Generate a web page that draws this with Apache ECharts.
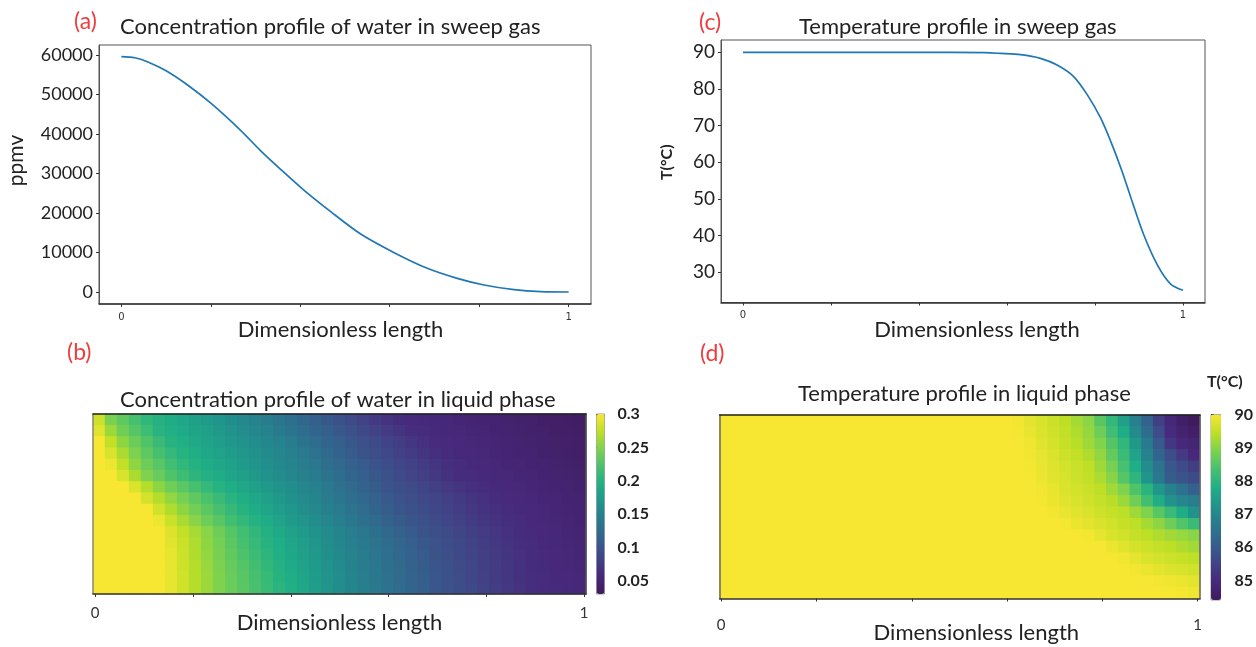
<!DOCTYPE html>
<html><head><meta charset="utf-8">
<style>html,body{margin:0;padding:0;background:#fff}#c{width:1256px;height:647px}</style>
<script src="https://cdn.jsdelivr.net/npm/echarts@6/dist/echarts.min.js"></script>
</head><body><div id="c"></div>
<script>
const lengthTicks=[0,0.2,0.4,0.6,0.8,1];
const lengthLabels=[0,1];
const ppmvTicks=[0,10000,20000,30000,40000,50000,60000];
const tempTicks=[30,40,50,60,70,80,90];
const liquidConcTicks=[0.05,0.1,0.15,0.2,0.25,0.3];
const liquidTempTicks=[85,86,87,88,89,90];

const sweepWaterX=[0,0.03,0.058,0.1,0.148,0.2,0.266,0.311,0.356,0.408,0.468,0.535,0.61,0.684,0.751,0.811,0.878,0.938,1];
const sweepWaterY=[59600,59300,58300,56000,52400,47800,41000,35800,31060,25800,20340,14680,9960,6000,3460,1770,580,80,0];
const sweepTempX=[0,0.2,0.4,0.55,0.585,0.631,0.676,0.714,0.752,0.783,0.813,0.836,0.86,0.881,0.911,0.942,0.972,1];
const sweepTempY=[90,90,90,89.9,89.7,89.35,88.35,86.5,83.3,78.3,72,65.6,58,50.5,40.1,31.9,26.7,25];

const liquidConc=[
[.28,.246,.233,.22,.206,.197,.191,.185,.179,.174,.168,.162,.156,.15,.143,.135,.128,.12,.112,.104,.097,.09,.082,.074,.067,.06,.058,.057,.055,.054,.052,.05,.049,.047,.046,.044,.043,.041,.04,.038,.036],
[.29,.26,.241,.228,.214,.2,.194,.189,.183,.178,.172,.166,.16,.155,.149,.14,.134,.126,.118,.111,.103,.096,.089,.082,.075,.068,.061,.059,.057,.055,.054,.052,.051,.049,.048,.046,.044,.043,.041,.04,.038],
[.3,.276,.254,.239,.225,.212,.199,.194,.188,.182,.177,.171,.166,.16,.155,.149,.141,.134,.126,.118,.111,.103,.096,.09,.083,.077,.07,.064,.059,.058,.056,.055,.053,.051,.05,.048,.046,.045,.043,.042,.04],
[.3,.285,.266,.247,.232,.22,.208,.198,.193,.187,.182,.176,.17,.165,.159,.154,.148,.14,.132,.124,.116,.108,.1,.094,.088,.081,.075,.069,.063,.059,.057,.056,.054,.052,.05,.049,.047,.045,.044,.042,.04],
[.3,.295,.275,.255,.24,.229,.217,.206,.197,.191,.186,.18,.174,.169,.163,.157,.152,.145,.137,.129,.122,.114,.107,.099,.093,.087,.081,.075,.069,.063,.059,.057,.056,.054,.052,.051,.049,.047,.046,.044,.042],
[.3,.3,.285,.266,.248,.237,.225,.214,.204,.196,.19,.184,.178,.172,.166,.16,.154,.148,.141,.133,.126,.118,.111,.104,.097,.091,.085,.079,.072,.066,.06,.059,.057,.055,.054,.052,.051,.049,.047,.046,.044],
[.3,.3,.3,.287,.27,.254,.241,.23,.22,.208,.198,.192,.186,.179,.173,.166,.16,.153,.147,.139,.131,.124,.116,.108,.1,.095,.09,.084,.079,.073,.068,.063,.059,.057,.056,.054,.052,.05,.049,.047,.045],
[.3,.3,.3,.3,.284,.27,.256,.244,.233,.222,.211,.2,.193,.186,.179,.172,.165,.158,.151,.143,.136,.128,.121,.113,.105,.099,.094,.089,.084,.079,.074,.069,.064,.06,.058,.056,.054,.052,.051,.049,.047],
[.3,.3,.3,.3,.3,.282,.268,.254,.242,.231,.22,.209,.199,.191,.184,.177,.17,.163,.156,.148,.141,.133,.125,.118,.11,.102,.097,.092,.087,.082,.077,.072,.067,.063,.059,.057,.056,.054,.052,.05,.048],
[.3,.3,.3,.3,.3,.295,.279,.265,.252,.24,.229,.218,.207,.197,.19,.182,.175,.168,.16,.153,.145,.138,.13,.123,.116,.108,.101,.096,.091,.086,.081,.076,.071,.067,.062,.059,.057,.055,.053,.051,.049],
[.3,.3,.3,.3,.3,.3,.288,.276,.264,.252,.24,.228,.217,.205,.196,.188,.181,.174,.166,.159,.152,.144,.137,.13,.122,.115,.107,.1,.095,.09,.085,.08,.075,.07,.065,.06,.058,.056,.054,.052,.05],
[.3,.3,.3,.3,.3,.3,.29,.279,.267,.254,.243,.231,.22,.21,.199,.192,.184,.177,.17,.162,.155,.147,.14,.133,.126,.119,.112,.104,.098,.093,.088,.083,.077,.072,.067,.062,.059,.057,.055,.053,.051],
[.3,.3,.3,.3,.3,.3,.292,.28,.268,.256,.245,.234,.224,.213,.203,.194,.187,.179,.172,.164,.157,.149,.142,.135,.128,.121,.114,.107,.1,.095,.089,.084,.079,.074,.069,.064,.06,.058,.056,.054,.052],
[.3,.3,.3,.3,.3,.3,.293,.281,.27,.258,.247,.236,.227,.217,.206,.197,.189,.181,.174,.166,.158,.15,.143,.137,.13,.123,.115,.108,.101,.096,.091,.086,.08,.075,.07,.065,.06,.058,.056,.055,.053],
[.3,.3,.3,.3,.3,.3,.293,.282,.27,.259,.248,.238,.229,.22,.21,.199,.192,.184,.176,.168,.16,.152,.145,.138,.131,.124,.117,.11,.103,.097,.092,.087,.081,.076,.071,.066,.061,.059,.057,.056,.054],
[.3,.3,.3,.3,.3,.3,.293,.282,.27,.259,.248,.239,.23,.221,.211,.202,.194,.186,.177,.169,.16,.152,.146,.139,.132,.125,.118,.111,.104,.098,.093,.088,.082,.077,.072,.067,.062,.059,.058,.057,.055]
];
const liquidTemp=[
[90,90,90,90,90,90,90,90,90,90,90,90,90,90,90,90,90,90,90,90,90,90,90,90,90,89.95,89.82,89.7,89.58,89.45,89.24,89.03,88.55,88.06,87.47,86.83,86.17,85.44,84.9,84.62,84.42],
[90,90,90,90,90,90,90,90,90,90,90,90,90,90,90,90,90,90,90,90,90,90,90,90,90,89.97,89.86,89.73,89.61,89.49,89.32,89.11,88.75,88.27,87.74,87.08,86.4,85.69,85,84.75,84.6],
[90,90,90,90,90,90,90,90,90,90,90,90,90,90,90,90,90,90,90,90,90,90,90,90,90,89.98,89.93,89.79,89.65,89.53,89.4,89.19,88.95,88.49,88.04,87.36,86.69,85.97,85.26,84.95,84.85],
[90,90,90,90,90,90,90,90,90,90,90,90,90,90,90,90,90,90,90,90,90,90,90,90,90,89.99,89.96,89.84,89.72,89.6,89.49,89.33,89.1,88.66,88.18,87.56,86.9,86.22,85.72,85.29,84.95],
[90,90,90,90,90,90,90,90,90,90,90,90,90,90,90,90,90,90,90,90,90,90,90,90,90,90,89.97,89.87,89.76,89.65,89.55,89.46,89.19,88.85,88.35,87.77,87.09,86.51,85.94,85.7,85.4],
[90,90,90,90,90,90,90,90,90,90,90,90,90,90,90,90,90,90,90,90,90,90,90,90,90,90,89.98,89.9,89.79,89.69,89.59,89.49,89.3,89,88.51,88,87.29,86.64,86.02,85.85,85.7],
[90,90,90,90,90,90,90,90,90,90,90,90,90,90,90,90,90,90,90,90,90,90,90,90,90,90,89.99,89.95,89.85,89.74,89.65,89.56,89.46,89.2,88.94,88.44,87.96,87.33,86.84,86.48,86.14],
[90,90,90,90,90,90,90,90,90,90,90,90,90,90,90,90,90,90,90,90,90,90,90,90,90,90,90,89.97,89.88,89.79,89.69,89.61,89.52,89.42,89.15,88.78,88.3,87.78,87.24,86.95,86.75],
[90,90,90,90,90,90,90,90,90,90,90,90,90,90,90,90,90,90,90,90,90,90,90,90,90,90,90,90,89.96,89.87,89.78,89.69,89.6,89.52,89.43,89.19,88.92,88.54,88.17,87.74,87.24],
[90,90,90,90,90,90,90,90,90,90,90,90,90,90,90,90,90,90,90,90,90,90,90,90,90,90,90,90,90,89.97,89.88,89.8,89.71,89.62,89.53,89.43,89.24,89.04,88.76,88.46,88.15],
[90,90,90,90,90,90,90,90,90,90,90,90,90,90,90,90,90,90,90,90,90,90,90,90,90,90,90,90,90,90,90,89.97,89.84,89.72,89.62,89.53,89.44,89.33,89.22,89.12,89.01],
[90,90,90,90,90,90,90,90,90,90,90,90,90,90,90,90,90,90,90,90,90,90,90,90,90,90,90,90,90,90,90,90,89.98,89.89,89.77,89.67,89.59,89.52,89.44,89.33,89.22],
[90,90,90,90,90,90,90,90,90,90,90,90,90,90,90,90,90,90,90,90,90,90,90,90,90,90,90,90,90,90,90,90,90,89.99,89.94,89.83,89.71,89.65,89.6,89.53,89.47],
[90,90,90,90,90,90,90,90,90,90,90,90,90,90,90,90,90,90,90,90,90,90,90,90,90,90,90,90,90,90,90,90,90,90,89.99,89.96,89.89,89.82,89.75,89.68,89.62],
[90,90,90,90,90,90,90,90,90,90,90,90,90,90,90,90,90,90,90,90,90,90,90,90,90,90,90,90,90,90,90,90,90,90,90,89.99,89.98,89.96,89.93,89.88,89.8],
[90,90,90,90,90,90,90,90,90,90,90,90,90,90,90,90,90,90,90,90,90,90,90,90,90,90,90,90,90,90,90,90,90,90,90,90,90,90,89.99,89.97,89.93]
];

const FONT='Lato';
const viridis=['#3f1a5c','#47297c','#414487','#355f8d','#2a788e','#21918c','#1fae86','#44bf70','#7ad151','#bddf26','#f7e733'];
const BORDER='#555';
const triples=rows=>rows.flatMap((r,j)=>r.map((v,i)=>[i,j,v]));
const pairs=(xs,ys)=>xs.map((x,i)=>[x,ys[i]]);
const idx=n=>Array.from({length:n},(_,i)=>i);
const plain=v=>String(v);

function lengthAxis(gridIndex,min,max,labelSize,labelMargin,nameGap,pad,labelFamily){
  return {type:'value',gridIndex,min,max,position:'bottom',z:5,
    name:'Dimensionless length',nameLocation:'middle',nameGap,nameMoveOverlap:false,
    nameTextStyle:{fontFamily:FONT,fontSize:22,color:'#222',padding:pad},
    splitLine:{show:false},
    axisLine:{show:true,onZero:false,lineStyle:{color:'#333',width:1.5}},
    axisTick:{show:true,length:3,lineStyle:{color:'#333'},customValues:lengthTicks},
    axisLabel:{show:true,customValues:lengthLabels,formatter:plain,fontFamily:labelFamily,fontSize:labelSize,color:'#333',margin:labelMargin}};
}
function leftAxis(gridIndex,min,max,ticks,size,name,nameSize,bold,nameGap,pad){
  return {type:'value',gridIndex,min,max,position:'left',
    name,nameLocation:'middle',nameGap,nameMoveOverlap:false,
    nameTextStyle:{fontFamily:FONT,fontSize:nameSize,fontWeight:bold?'bold':'normal',color:'#222',padding:pad},
    splitLine:{show:false},
    axisLine:{show:true,onZero:false,lineStyle:{color:BORDER}},
    axisTick:{show:true,length:3,lineStyle:{color:'#333'},customValues:ticks},
    axisLabel:{customValues:ticks,formatter:plain,fontFamily:FONT,fontSize:size,color:'#222',margin:6}};
}
function barAxis(gridIndex,min,max,ticks,margin,pad){
  return {type:'value',gridIndex,min,max,position:'right',
    splitLine:{show:false},axisLine:{show:false},
    axisTick:{show:true,length:3,lineStyle:{color:'#444'},customValues:ticks},
    axisLabel:{customValues:ticks,formatter:plain,fontFamily:FONT,fontSize:16,fontWeight:'bold',color:'#222',margin,padding:pad}};
}
const frame=(gridIndex,position,color)=>({type:'value',gridIndex,min:0,max:1,position,z:5,
  splitLine:{show:false},axisTick:{show:false},axisLabel:{show:false},
  axisLine:{show:true,onZero:false,lineStyle:{color,width:1.5}}});
const hiddenCat=(gridIndex,n,extra)=>Object.assign({type:'category',gridIndex,data:idx(n),show:false},extra||{});
const hiddenVal=gridIndex=>({type:'value',gridIndex,min:0,max:1,show:false});

const texts=[
 ['(a)',74,10,23,'#f03c3c','normal'],['(b)',67,341,23,'#f03c3c','normal'],
 ['(c)',699,11,23,'#f03c3c','normal'],['(d)',700,342,23,'#f03c3c','normal'],
 ['Concentration profile of water in sweep gas',120,16,22,'#222','normal'],
 ['Concentration profile of water in liquid phase',120,389,22,'#222','normal'],
 ['Temperature profile in sweep gas',799,16,22,'#222','normal'],
 ['Temperature profile in liquid phase',798,383,22,'#222','normal'],
 ['T(°C)',1207,374,16,'#222','bold']
];

const option={
 animation:false,backgroundColor:'#fff',
 title:texts.map(t=>({text:t[0],left:t[1],top:t[2],padding:0,textStyle:{fontFamily:FONT,fontSize:t[3],color:t[4],fontWeight:t[5]}})),
 grid:[
  {left:99,top:45,width:492,height:259,show:true,borderColor:BORDER,borderWidth:1,backgroundColor:'#fff'},
  {left:721,top:40,width:484,height:262.5,show:true,borderColor:BORDER,borderWidth:1,backgroundColor:'#fff'},
  {left:93,top:414,width:493,height:180,show:false},
  {left:719.7,top:415,width:480.3,height:183.5,show:false},
  {left:596.5,top:414,width:8,height:180,show:true,borderColor:'#999',borderWidth:1},
  {left:1211,top:414.5,width:10,height:185.5,show:true,borderColor:'#999',borderWidth:1}
 ],
 xAxis:[
  lengthAxis(0,-0.05,1.05,10,8,15,[0,9,0,0],'DejaVu Sans'),
  lengthAxis(1,-0.05,1.05,10,8,16.5,[0,0,0,28],'DejaVu Sans'),
  hiddenCat(2,41),
  hiddenCat(3,41),
  lengthAxis(2,-0.0045,1.0039,15,12,18,[0,0,0,0],FONT),
  lengthAxis(3,-0.0031,1.0048,15,19,23.5,[0,0,0,33],FONT),
  hiddenVal(4),hiddenVal(5),
  frame(2,'top','#222'),frame(3,'top','#222')
 ],
 yAxis:[
  leftAxis(0,-3038,62532,ppmvTicks,18,'ppmv',21,false,72,[0,0,0,28]),
  leftAxis(1,21.67,93.36,tempTicks,19,'T(°C)',16,true,46,[0,0,0,18]),
  hiddenCat(2,16,{inverse:true}),
  hiddenCat(3,16,{inverse:true}),
  barAxis(4,0.0305,0.3,liquidConcTicks,13,[0,0,0,0]),
  barAxis(5,84.41,90,liquidTempTicks,14,[4,0,0,0]),
  frame(2,'left','#888'),frame(2,'right','#555'),
  frame(3,'left','#666'),frame(3,'right','#666')
 ],
 visualMap:[
  {type:'continuous',min:0.0305,max:0.3,seriesIndex:[2,4],left:596.5,top:414,itemWidth:8,itemHeight:180,padding:0,calculable:false,inRange:{color:viridis}},
  {type:'continuous',min:84.41,max:90,seriesIndex:[3,5],left:1211,top:414.5,itemWidth:10,itemHeight:185.5,padding:0,calculable:false,inRange:{color:viridis}}
 ],
 series:[
  {type:'line',xAxisIndex:0,yAxisIndex:0,data:pairs(sweepWaterX,sweepWaterY),showSymbol:false,smooth:0.3,lineStyle:{color:'#1f77b4',width:1.7}},
  {type:'line',xAxisIndex:1,yAxisIndex:1,data:pairs(sweepTempX,sweepTempY),showSymbol:false,smooth:0.3,lineStyle:{color:'#1f77b4',width:1.7}},
  {type:'heatmap',xAxisIndex:2,yAxisIndex:2,data:triples(liquidConc),progressive:0},
  {type:'heatmap',xAxisIndex:3,yAxisIndex:3,data:triples(liquidTemp),progressive:0},
  {type:'heatmap',xAxisIndex:2,yAxisIndex:2,data:triples(liquidConc),progressive:0},
  {type:'heatmap',xAxisIndex:3,yAxisIndex:3,data:triples(liquidTemp),progressive:0}
 ]
};
echarts.init(document.getElementById('c'),null,{renderer:'canvas'}).setOption(option);
</script></body></html>
